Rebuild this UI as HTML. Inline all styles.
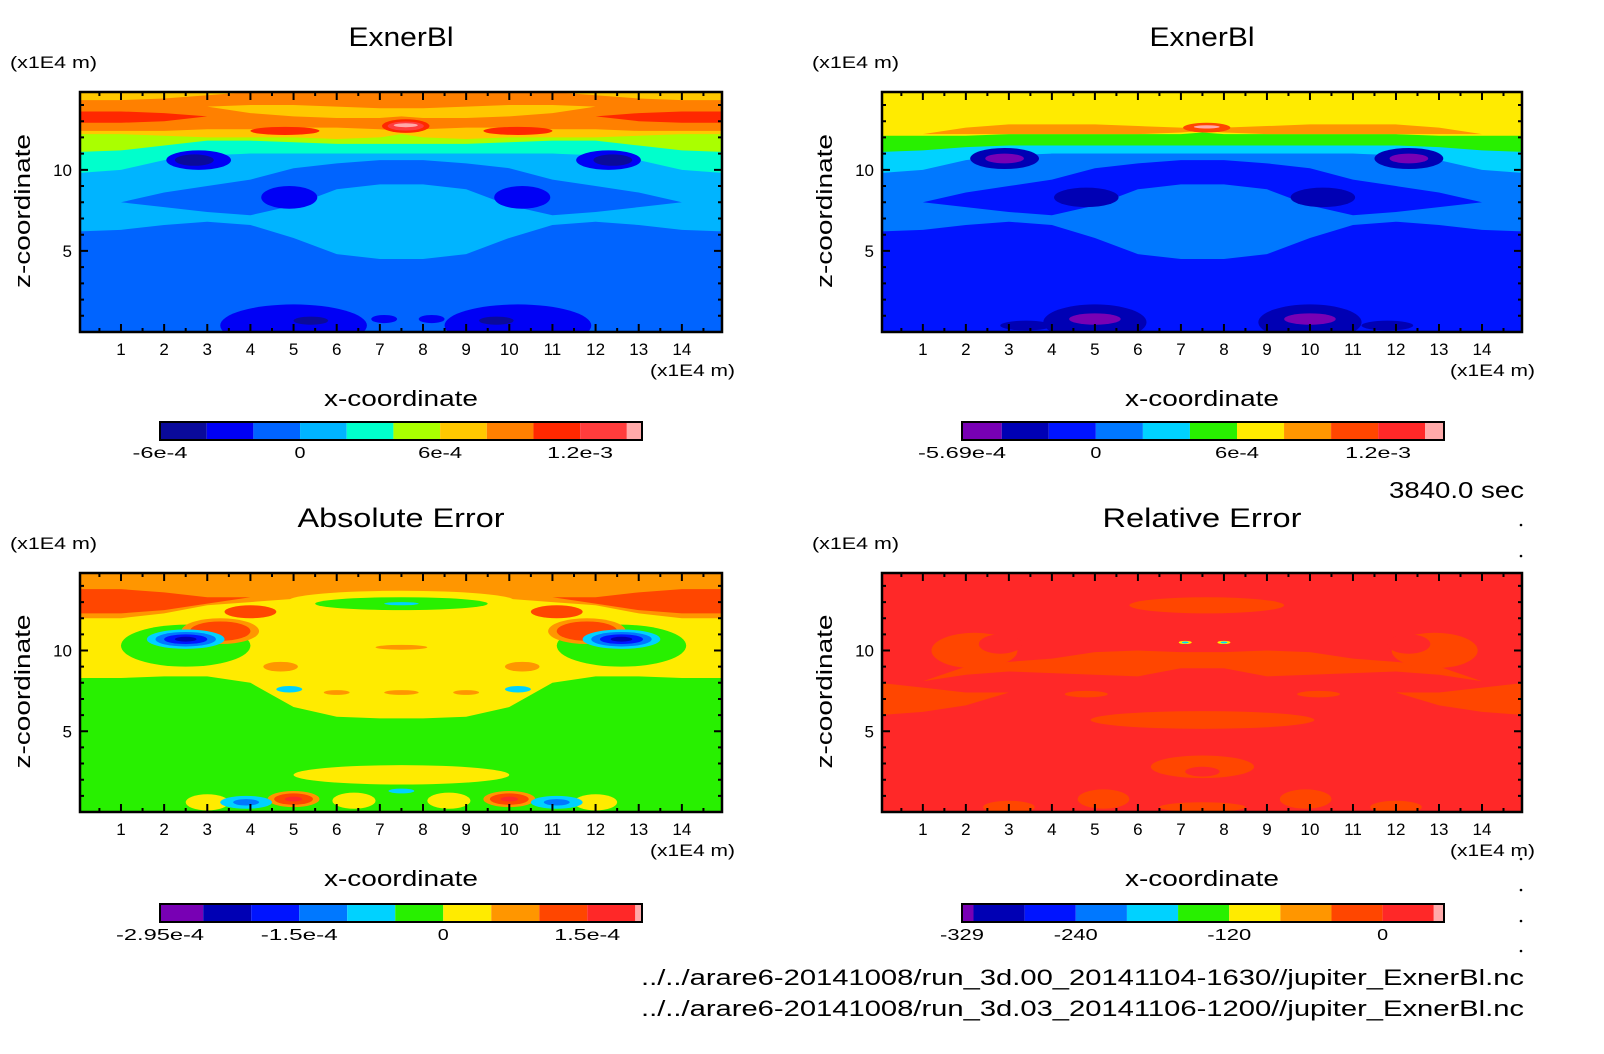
<!DOCTYPE html>
<html><head><meta charset="utf-8"><style>
html,body{margin:0;padding:0;background:#fff;}
svg{display:block;font-family:"Liberation Sans",sans-serif;}
</style></head><body>
<svg id="fig" width="1604" height="1054" viewBox="0 0 1604 1054" xmlns="http://www.w3.org/2000/svg"></svg>
<script>
// ---- data ----
const XS=[0,1,2,3,4,5,6,7,7.5,8,9,10,11,12,13,14,15];
const xTicks=[1,2,3,4,5,6,7,8,9,10,11,12,13,14];
const yTicks=[5,10];
const palA=['#0a0a9a','#0000f5','#0064ff','#00b4ff','#00ffcc','#aaff00','#ffc800','#ff8000','#ff2800','#ff3c3c','#ffaaaa'];
const palB=['#7800b4','#0000b4','#0014ff','#0078ff','#00d2ff','#28f000','#ffeb00','#ff9600','#ff4600','#ff2828','#ffaaaa'];

const tlLayers=[
 {c:3,lo:[6.2,6.3,6.6,6.8,6.6,5.8,4.8,4.5,4.5,4.5,4.8,5.8,6.6,6.8,6.6,6.3,6.2],hi:[11,11,11,11,11,11,11,11,11,11,11,11,11,11,11,11,11]},
 {c:2,lo:[8,8,7.7,7.4,7.2,7.8,8.8,9.1,9.1,9.1,8.8,7.8,7.2,7.4,7.7,8,8],hi:[8,8,8.6,9,9.4,10.1,10.4,10.6,10.6,10.6,10.4,10.1,9.4,9,8.6,8,8]},
 {c:3,e:[2.8,10.5,1.2,0.9]},{c:3,e:[12.3,10.5,1.2,0.9]},
 {c:4,lo:[9.8,10,10.6,10.9,11,11,11,11,11,11,11,11,11,10.9,10.6,10,9.8],hi:null},
 {c:5,lo:[11.1,11.2,11.5,11.8,11.8,11.7,11.6,11.6,11.6,11.6,11.6,11.7,11.8,11.8,11.5,11.2,11.1],hi:null},
 {c:6,lo:[12.2,12.2,12.1,12,12,12,11.9,12,12.2,12,11.9,12,12,12,12.1,12.2,12.2],hi:null},
 {c:7,lo:[12.4,12.4,12.4,12.5,12.5,12.6,12.6,12.5,12.4,12.5,12.6,12.6,12.5,12.5,12.4,12.4,12.4],hi:null},
 {c:6,lo:[14.3,14.3,14.4,14.6,14.8,14.8,14.8,14.8,14.8,14.8,14.8,14.8,14.8,14.6,14.4,14.3,14.3],hi:null},
 {c:6,lo:[13.9,13.9,13.9,13.9,13.5,13.3,13.2,13.2,13.3,13.2,13.2,13.3,13.5,13.9,13.9,13.9,13.9],hi:[13.9,13.9,13.9,13.9,14.0,14.0,13.9,13.8,13.8,13.8,13.9,14.0,14.0,13.9,13.9,13.9,13.9]},
 {c:8,lo:[12.9,12.9,13.0,13.3,13.3,13.3,13.3,13.3,13.3,13.3,13.3,13.3,13.3,13.3,13.0,12.9,12.9],hi:[13.6,13.6,13.5,13.3,13.3,13.3,13.3,13.3,13.3,13.3,13.3,13.3,13.3,13.3,13.5,13.6,13.6]},
 {c:8,e:[4.8,12.4,0.8,0.25]},{c:8,e:[10.2,12.4,0.8,0.25]},
 {c:8,e:[7.6,12.7,0.55,0.42]},{c:9,e:[7.6,12.7,0.42,0.28]},{c:10,e:[7.6,12.75,0.28,0.12]},
 {c:1,e:[2.8,10.6,0.75,0.6]},{c:1,e:[12.3,10.6,0.75,0.6]},
 {c:0,e:[2.7,10.6,0.45,0.35]},{c:0,e:[12.4,10.6,0.45,0.35]},
 {c:1,e:[4.9,8.3,0.65,0.7]},{c:1,e:[10.3,8.3,0.65,0.7]},
 {c:1,e:[5.0,0.4,1.7,1.3]},{c:1,e:[10.2,0.4,1.7,1.3]},
 {c:0,e:[5.4,0.7,0.4,0.25]},{c:0,e:[9.7,0.7,0.4,0.25]},
 {c:1,e:[7.1,0.8,0.3,0.25]},{c:1,e:[8.2,0.8,0.3,0.25]}
];
const trLayers=[
 {c:3,lo:[6.2,6.3,6.6,6.8,6.6,5.8,4.8,4.5,4.5,4.5,4.8,5.8,6.6,6.8,6.6,6.3,6.2],hi:[11,11,11,11,11,11,11,11,11,11,11,11,11,11,11,11,11]},
 {c:2,lo:[8,8,7.7,7.4,7.2,7.8,8.8,9.1,9.1,9.1,8.8,7.8,7.2,7.4,7.7,8,8],hi:[8,8,8.6,9,9.4,10.1,10.4,10.6,10.6,10.6,10.4,10.1,9.4,9,8.6,8,8]},
 {c:3,e:[2.9,10.6,1.2,0.9]},{c:3,e:[12.3,10.6,1.2,0.9]},
 {c:4,lo:[9.8,10,10.6,10.9,11,11,11,11,11,11,11,11,11,10.9,10.6,10,9.8],hi:null},
 {c:5,lo:[11.1,11.2,11.4,11.5,11.5,11.5,11.5,11.5,11.5,11.5,11.5,11.5,11.5,11.5,11.4,11.2,11.1],hi:null},
 {c:6,lo:[12.1,12.1,12.1,12.2,12.2,12.2,12.2,12.2,12.3,12.2,12.2,12.2,12.2,12.2,12.1,12.1,12.1],hi:null},
 {c:7,lo:[12.2,12.2,12.2,12.2,12.2,12.2,12.2,12.3,12.4,12.3,12.2,12.2,12.2,12.2,12.2,12.2,12.2],hi:[12.2,12.2,12.6,12.8,12.8,12.8,12.7,12.6,12.5,12.6,12.7,12.8,12.8,12.8,12.6,12.2,12.2]},
 {c:8,e:[7.6,12.6,0.55,0.3]},{c:10,e:[7.6,12.65,0.3,0.1]},
 {c:1,e:[2.9,10.7,0.8,0.65]},{c:1,e:[12.3,10.7,0.8,0.65]},
 {c:0,e:[2.9,10.7,0.45,0.3]},{c:0,e:[12.3,10.7,0.45,0.3]},
 {c:1,e:[4.8,8.3,0.75,0.6]},{c:1,e:[10.3,8.3,0.75,0.6]},
 {c:1,e:[5,0.6,1.2,1.1]},{c:1,e:[10,0.6,1.2,1.1]},
 {c:0,e:[5,0.8,0.6,0.35]},{c:0,e:[10,0.8,0.6,0.35]},
 {c:1,e:[3.4,0.4,0.6,0.3]},{c:1,e:[11.8,0.4,0.6,0.3]}
];
const blLayers=[
 {c:6,lo:[8.3,8.3,8.4,8.4,8.0,6.5,5.9,5.8,5.8,5.8,5.9,6.5,8.0,8.4,8.4,8.3,8.3],hi:null},
 {c:5,e:[2.5,10.3,1.5,1.3]},{c:5,e:[12.6,10.3,1.5,1.3]},
 {c:7,lo:[12.0,12.0,12.3,12.8,13.0,13.2,13.3,13.4,13.4,13.4,13.3,13.2,13.0,12.8,12.3,12.0,12.0],hi:null},
 {c:8,lo:[12.3,12.3,12.5,12.9,13.3,13.3,13.3,13.3,13.3,13.3,13.3,13.3,13.3,12.9,12.5,12.3,12.3],hi:[13.8,13.8,13.6,13.3,13.3,13.3,13.3,13.3,13.3,13.3,13.3,13.3,13.3,13.3,13.6,13.8,13.8]},
 {c:6,e:[7.5,13.1,2.6,0.6]},
 {c:5,e:[7.5,12.9,2.0,0.4]},{c:4,e:[7.5,12.9,0.4,0.1]},
 {c:7,e:[3.3,11.2,0.9,0.8]},{c:7,e:[11.8,11.2,0.9,0.8]},
 {c:8,e:[3.3,11.2,0.7,0.6]},{c:8,e:[11.8,11.2,0.7,0.6]},
 {c:8,e:[4.0,12.4,0.6,0.4]},{c:8,e:[11.1,12.4,0.6,0.4]},
 {c:4,e:[2.5,10.7,0.9,0.6]},{c:4,e:[12.6,10.7,0.9,0.6]},
 {c:3,e:[2.5,10.7,0.7,0.45]},{c:3,e:[12.6,10.7,0.7,0.45]},
 {c:2,e:[2.5,10.7,0.5,0.3]},{c:2,e:[12.6,10.7,0.5,0.3]},
 {c:1,e:[2.5,10.7,0.25,0.15]},{c:1,e:[12.6,10.7,0.25,0.15]},
 {c:7,e:[7.5,10.2,0.6,0.15]},{c:7,e:[4.7,9,0.4,0.3]},{c:7,e:[10.3,9,0.4,0.3]},
 {c:7,e:[7.5,7.4,0.4,0.15]},{c:7,e:[6,7.4,0.3,0.15]},{c:7,e:[9,7.4,0.3,0.15]},
 {c:4,e:[4.9,7.6,0.3,0.2]},{c:4,e:[10.2,7.6,0.3,0.2]},
 {c:6,e:[7.5,2.3,2.5,0.6]},
 {c:6,e:[3,0.6,0.5,0.5]},{c:6,e:[6.4,0.7,0.5,0.5]},{c:6,e:[8.6,0.7,0.5,0.5]},{c:6,e:[12,0.6,0.5,0.5]},
 {c:7,e:[5,0.8,0.6,0.5]},{c:7,e:[10,0.8,0.6,0.5]},
 {c:8,e:[5,0.8,0.45,0.35]},{c:8,e:[10,0.8,0.45,0.35]},
 {c:9,e:[5,0.8,0.2,0.15]},{c:9,e:[10,0.8,0.2,0.15]},
 {c:4,e:[3.9,0.6,0.6,0.4]},{c:4,e:[11.1,0.6,0.6,0.4]},
 {c:3,e:[3.9,0.6,0.3,0.2]},{c:3,e:[11.1,0.6,0.3,0.2]},
 {c:4,e:[7.5,1.3,0.3,0.15]}
];
const brLayers=[
 {c:8,lo:[8.1,8.1,8.5,8.7,8.6,8.5,8.4,8.9,8.9,8.9,8.4,8.5,8.6,8.7,8.5,8.1,8.1],hi:[8.1,8.1,9.0,9.3,9.5,9.9,10.0,9.9,9.9,9.9,10.0,9.9,9.5,9.3,9.0,8.1,8.1]},
 {c:8,e:[2.2,10,1.0,1.1]},{c:8,e:[12.9,10,1.0,1.1]},
 {c:9,e:[2.8,10.4,0.5,0.6]},{c:9,e:[12.3,10.4,0.5,0.6]},
 {c:8,e:[7.6,12.8,1.8,0.5]},
 {c:8,e:[7.5,5.7,2.6,0.55]},
 {c:8,lo:[6.0,6.2,6.6,7.4,7.4,7.4,7.4,7.4,7.4,7.4,7.4,7.4,7.4,7.4,6.6,6.2,6.0],hi:[8.0,7.7,7.4,7.4,7.4,7.4,7.4,7.4,7.4,7.4,7.4,7.4,7.4,7.4,7.4,7.7,8.0]},
 {c:8,e:[4.8,7.3,0.5,0.2]},{c:8,e:[10.2,7.3,0.5,0.2]},
 {c:8,e:[3.0,0.3,0.6,0.4]},{c:8,e:[5.2,0.8,0.6,0.6]},{c:8,e:[9.9,0.8,0.6,0.6]},{c:8,e:[12,0.3,0.6,0.4]},
 {c:8,e:[7.5,2.8,1.2,0.7]},{c:9,e:[7.5,2.5,0.4,0.3]},{c:8,e:[7.5,0.3,1.0,0.3]},
 {c:6,e:[7.1,10.5,0.15,0.1]},{c:6,e:[8.0,10.5,0.15,0.1]},
 {c:4,e:[7.1,10.5,0.08,0.06]},{c:4,e:[8.0,10.5,0.08,0.06]}
];
// colorbar levels (boundaries)
const cbTL=[-6e-4,-4e-4,-2e-4,0,2e-4,4e-4,6e-4,8e-4,1e-3,1.2e-3,1.4e-3,1.465e-3];
const cbTLLabels=[[-6e-4,'-6e-4'],[0,'0'],[6e-4,'6e-4'],[1.2e-3,'1.2e-3']];
const cbTR=[-5.69e-4,-4e-4,-2e-4,0,2e-4,4e-4,6e-4,8e-4,1e-3,1.2e-3,1.4e-3,1.48e-3];
const cbTRLabels=[[-5.69e-4,'-5.69e-4'],[0,'0'],[6e-4,'6e-4'],[1.2e-3,'1.2e-3']];
const cbBL=[-2.95e-4,-2.5e-4,-2e-4,-1.5e-4,-1e-4,-5e-5,0,5e-5,1e-4,1.5e-4,2e-4,2.07e-4];
const cbBLLabels=[[-2.95e-4,'-2.95e-4'],[-1.5e-4,'-1.5e-4'],[0,'0'],[1.5e-4,'1.5e-4']];
const cbBR=[-329,-320,-280,-240,-200,-160,-120,-80,-40,0,40,48];
const cbBRLabels=[[-329,'-329'],[-240,'-240'],[-120,'-120'],[0,'0']];

// ---- drawing ----
const NS='http://www.w3.org/2000/svg';
const svg=document.getElementById('fig');
function mk(tag,attrs,parent){const e=document.createElementNS(NS,tag);for(const k in attrs)e.setAttribute(k,attrs[k]);(parent||svg).appendChild(e);return e;}
function fit(e,len){e.setAttribute('textLength',len);e.setAttribute('lengthAdjust','spacingAndGlyphs');}
const XMIN=0.05,XMAX=14.93,YMIN=0,YMAX=14.8;

function panel(id,x0,x1,y0,y1,pal,layers,title,titleW,cb,cbLabels,cbx0,cbx1,cby){
  const sx=v=>x0+(v-XMIN)/(XMAX-XMIN)*(x1-x0);
  const sy=v=>y1-(v-YMIN)/(YMAX-YMIN)*(y1-y0);
  const g=mk('g',{});
  
  
  const cp=mk('clipPath',{id:id+'clip'},g);
  mk('rect',{x:x0,y:y0,width:x1-x0,height:y1-y0},cp);
  const plot=mk('g',{'clip-path':'url(#'+id+'clip)'},g);
  
  
  const bgIdx={tl:2,tr:2,bl:5,br:9}[id];
  const bg=mk('rect',{x:x0,y:y0,width:x1-x0,height:y1-y0,fill:pal[bgIdx]},plot);
  
  
  layers.forEach(L=>{
    let el;
    if(L.e){
      el=mk('ellipse',{cx:sx(L.e[0]),cy:sy(L.e[1]),rx:L.e[2]/(XMAX-XMIN)*(x1-x0),ry:L.e[3]/(YMAX-YMIN)*(y1-y0),fill:pal[L.c]},plot);
    }else{
      const hi=L.hi||XS.map(()=>YMAX+0.5);
      let pts=XS.map((x,i)=>sx(x)+','+sy(L.lo[i]));
      for(let i=XS.length-1;i>=0;i--)pts.push(sx(XS[i])+','+sy(hi[i]));
      el=mk('polygon',{points:pts.join(' '),fill:pal[L.c]},plot);
    }
    
    
  });
  const fr=mk('rect',{x:x0,y:y0,width:x1-x0,height:y1-y0,fill:'none',stroke:'#000','stroke-width':2.5},g);
  
  
  let d='';
  for(let v=0.5;v<XMAX;v+=0.5){const X=sx(v),len=(v%1===0)?8:4;d+=`M${X},${y1}v${-len}M${X},${y0}v${len}`;}
  for(let v=1;v<YMAX;v+=1){const Y=sy(v),len=(v%5===0)?8:4;d+=`M${x0},${Y}h${len}M${x1},${Y}h${-len}`;}
  const tk=mk('path',{d:d,stroke:'#000','stroke-width':2,fill:'none'},g);
  
  
  xTicks.forEach(v=>{const t=mk('text',{x:sx(v),y:y1+23,'font-size':17,'text-anchor':'middle'},g);t.textContent=v;
    
    });
  yTicks.forEach(v=>{const t=mk('text',{x:x0-8,y:sy(v)+6,'font-size':17,'text-anchor':'end'},g);t.textContent=v;
    
    });
  let t=mk('text',{x:(x0+x1)/2,y:y0-46,'font-size':27,'text-anchor':'middle'},g);t.textContent=title;fit(t,titleW);
  
  
  t=mk('text',{x:x0-70,y:y0-24,'font-size':17},g);t.textContent='(x1E4 m)';fit(t,87);
  
  
  t=mk('text',{x:x1-72,y:y1+44,'font-size':17},g);t.textContent='(x1E4 m)';fit(t,85);
  
  
  t=mk('text',{x:(x0+x1)/2,y:y1+74,'font-size':22,'text-anchor':'middle'},g);t.textContent='x-coordinate';fit(t,154);
  
  
  const ycx=x0-50,ycy=(y0+y1)/2-1;
  t=mk('text',{x:ycx,y:ycy,'font-size':22,'text-anchor':'middle',transform:`rotate(-90 ${ycx} ${ycy})`},g);t.textContent='z-coordinate';fit(t,154);
  
  
  const cx=v=>cbx0+(v-cb[0])/(cb[cb.length-1]-cb[0])*(cbx1-cbx0);
  const cg=mk('g',{},g);
  
  
  for(let i=0;i<cb.length-1;i++){
    const r=mk('rect',{x:cx(cb[i]),y:cby,width:cx(cb[i+1])-cx(cb[i]),height:18,fill:pal[i]},cg);
    
    
  }
  const cf=mk('rect',{x:cbx0,y:cby,width:cbx1-cbx0,height:18,fill:'none',stroke:'#000','stroke-width':2},cg);
  
  
  cbLabels.forEach(([v,s])=>{const l=mk('text',{x:cx(v),y:cby+36,'font-size':16,'text-anchor':'middle'},cg);l.textContent=s;fit(l,s.length*11);
    
    });
}
panel('tl',80,722,92,332,palA,tlLayers,'ExnerBl',105,cbTL,cbTLLabels,160,642,422);
panel('tr',882,1522,92,332,palB,trLayers,'ExnerBl',105,cbTR,cbTRLabels,962,1444,422);
panel('bl',80,722,573,812,palB,blLayers,'Absolute Error',207,cbBL,cbBLLabels,160,642,904);
panel('br',882,1522,573,812,palB,brLayers,'Relative Error',199,cbBR,cbBRLabels,962,1444,904);

let t=mk('text',{x:1524,y:498,'font-size':23,'text-anchor':'end'});t.textContent='3840.0 sec';fit(t,135);


t=mk('text',{x:641,y:985,'font-size':22});t.textContent='../../arare6-20141008/run_3d.00_20141104-1630//jupiter_ExnerBl.nc';fit(t,883);


t=mk('text',{x:641,y:1016,'font-size':22});t.textContent='../../arare6-20141008/run_3d.03_20141106-1200//jupiter_ExnerBl.nc';fit(t,883);


[525,556,859,890,921,951].forEach(y=>{const c=mk('circle',{cx:1521,cy:y,r:1.3,fill:'#000'});
  
  });
</script>
</body></html>
